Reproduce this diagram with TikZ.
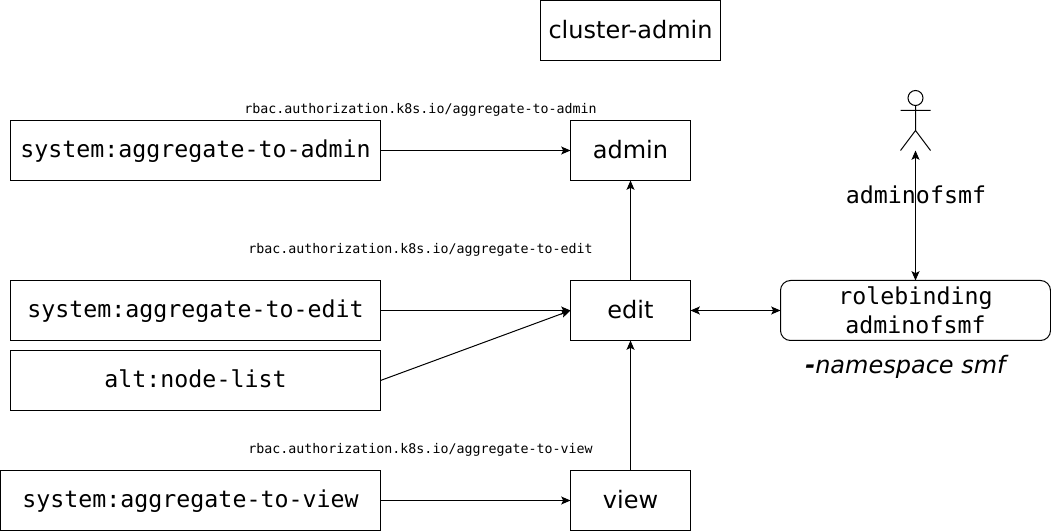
\documentclass[tikz,border=0pt]{standalone}
\usepackage{fontspec}
\setmainfont{DejaVu Sans}
\setmonofont{DejaVu Sans Mono}
\usetikzlibrary{arrows.meta}
\tikzset{
 x=0.75pt,y=-0.75pt,
 boxn/.style={draw=black,line width=0.75pt,rectangle,inner sep=0pt,outer sep=0pt,anchor=north west,align=center},
 lbl/.style={font=\ttfamily\fontsize{17.45}{21.7}\selectfont},
 lblb/.style={lbl,text height=13.8pt,text depth=3pt},
 sans/.style={font=\fontsize{18}{21}\selectfont,text height=15.3pt,text depth=3pt},
 sml/.style={font=\ttfamily\fontsize{9.98}{12}\selectfont,inner sep=0pt},
 conn/.style={line width=0.75pt,-{Stealth[length=7pt,width=6pt,inset=1.5pt]}},
 conn2/.style={line width=0.75pt,{Stealth[length=7pt,width=6pt,inset=1.5pt]}-{Stealth[length=7pt,width=6pt,inset=1.5pt]}},
}
\begin{document}
\begin{tikzpicture}
\useasboundingbox (0,0) rectangle (1051,531);
\node[boxn,minimum width=135pt,minimum height=45pt,sans] (ca) at (540.5,0.5) {cluster-admin};
\node[boxn,minimum width=90pt,minimum height=45pt,sans] (admin) at (570.5,120.5) {admin};
\node[boxn,minimum width=90pt,minimum height=45pt,sans] (edit) at (570.5,280.5) {edit};
\node[boxn,minimum width=90pt,minimum height=45pt,sans] (view) at (570.5,470.5) {view};
\node[boxn,minimum width=277.5pt,minimum height=45pt,lblb] (sa) at (10.5,120.5) {system:aggregate-to-admin};
\node[boxn,minimum width=277.5pt,minimum height=45pt,lblb] (se) at (10.5,280.5) {system:aggregate-to-edit};
\node[boxn,minimum width=277.5pt,minimum height=45pt,lblb] (an) at (10.5,350.5) {alt:node-list};
\node[boxn,minimum width=285pt,minimum height=45pt,lblb] (sv) at (0.5,470.5) {system:aggregate-to-view};
\node[boxn,rounded corners=7.5pt,minimum width=202.5pt,minimum height=45pt,lbl] (rb) at (780.5,280.5) {rolebinding\\adminofsmf};
\node[sml] (t1) at (420.5,109.6) {rbac.authorization.k8s.io/aggregate-to-admin};
\node[sml] (t2) at (420.5,249.6) {rbac.authorization.k8s.io/aggregate-to-edit};
\node[sml] (t3) at (420.5,449.6) {rbac.authorization.k8s.io/aggregate-to-view};
\node[lbl,inner sep=0pt] (af) at (916,195) {adminofsmf};
\node[inner sep=0pt,font=\fontsize{18}{21}\selectfont\itshape] (ns) at (905.5,367) {\textbf{-}namespace smf};
\coordinate (actor) at (915.5,150.5);
\draw[line width=0.75pt] (915.5,98) circle[radius=7.5];
\draw[line width=0.75pt] (915.5,105.5) -- (915.5,130.5) (900.5,110.5) -- (930.5,110.5) (900.5,150.5) -- (915.5,130.5) -- (930.5,150.5);
\draw[conn] (sa) -- (admin);
\draw[conn] (se) -- (edit);
\draw[conn] (an.east) -- (edit.west);
\draw[conn] (sv) -- (view);
\draw[conn] (edit) -- (admin);
\draw[conn] (view) -- (edit);
\draw[conn2] (edit) -- (rb);
\draw[conn2] (rb.north) -- (actor);
\end{tikzpicture}
\end{document}
